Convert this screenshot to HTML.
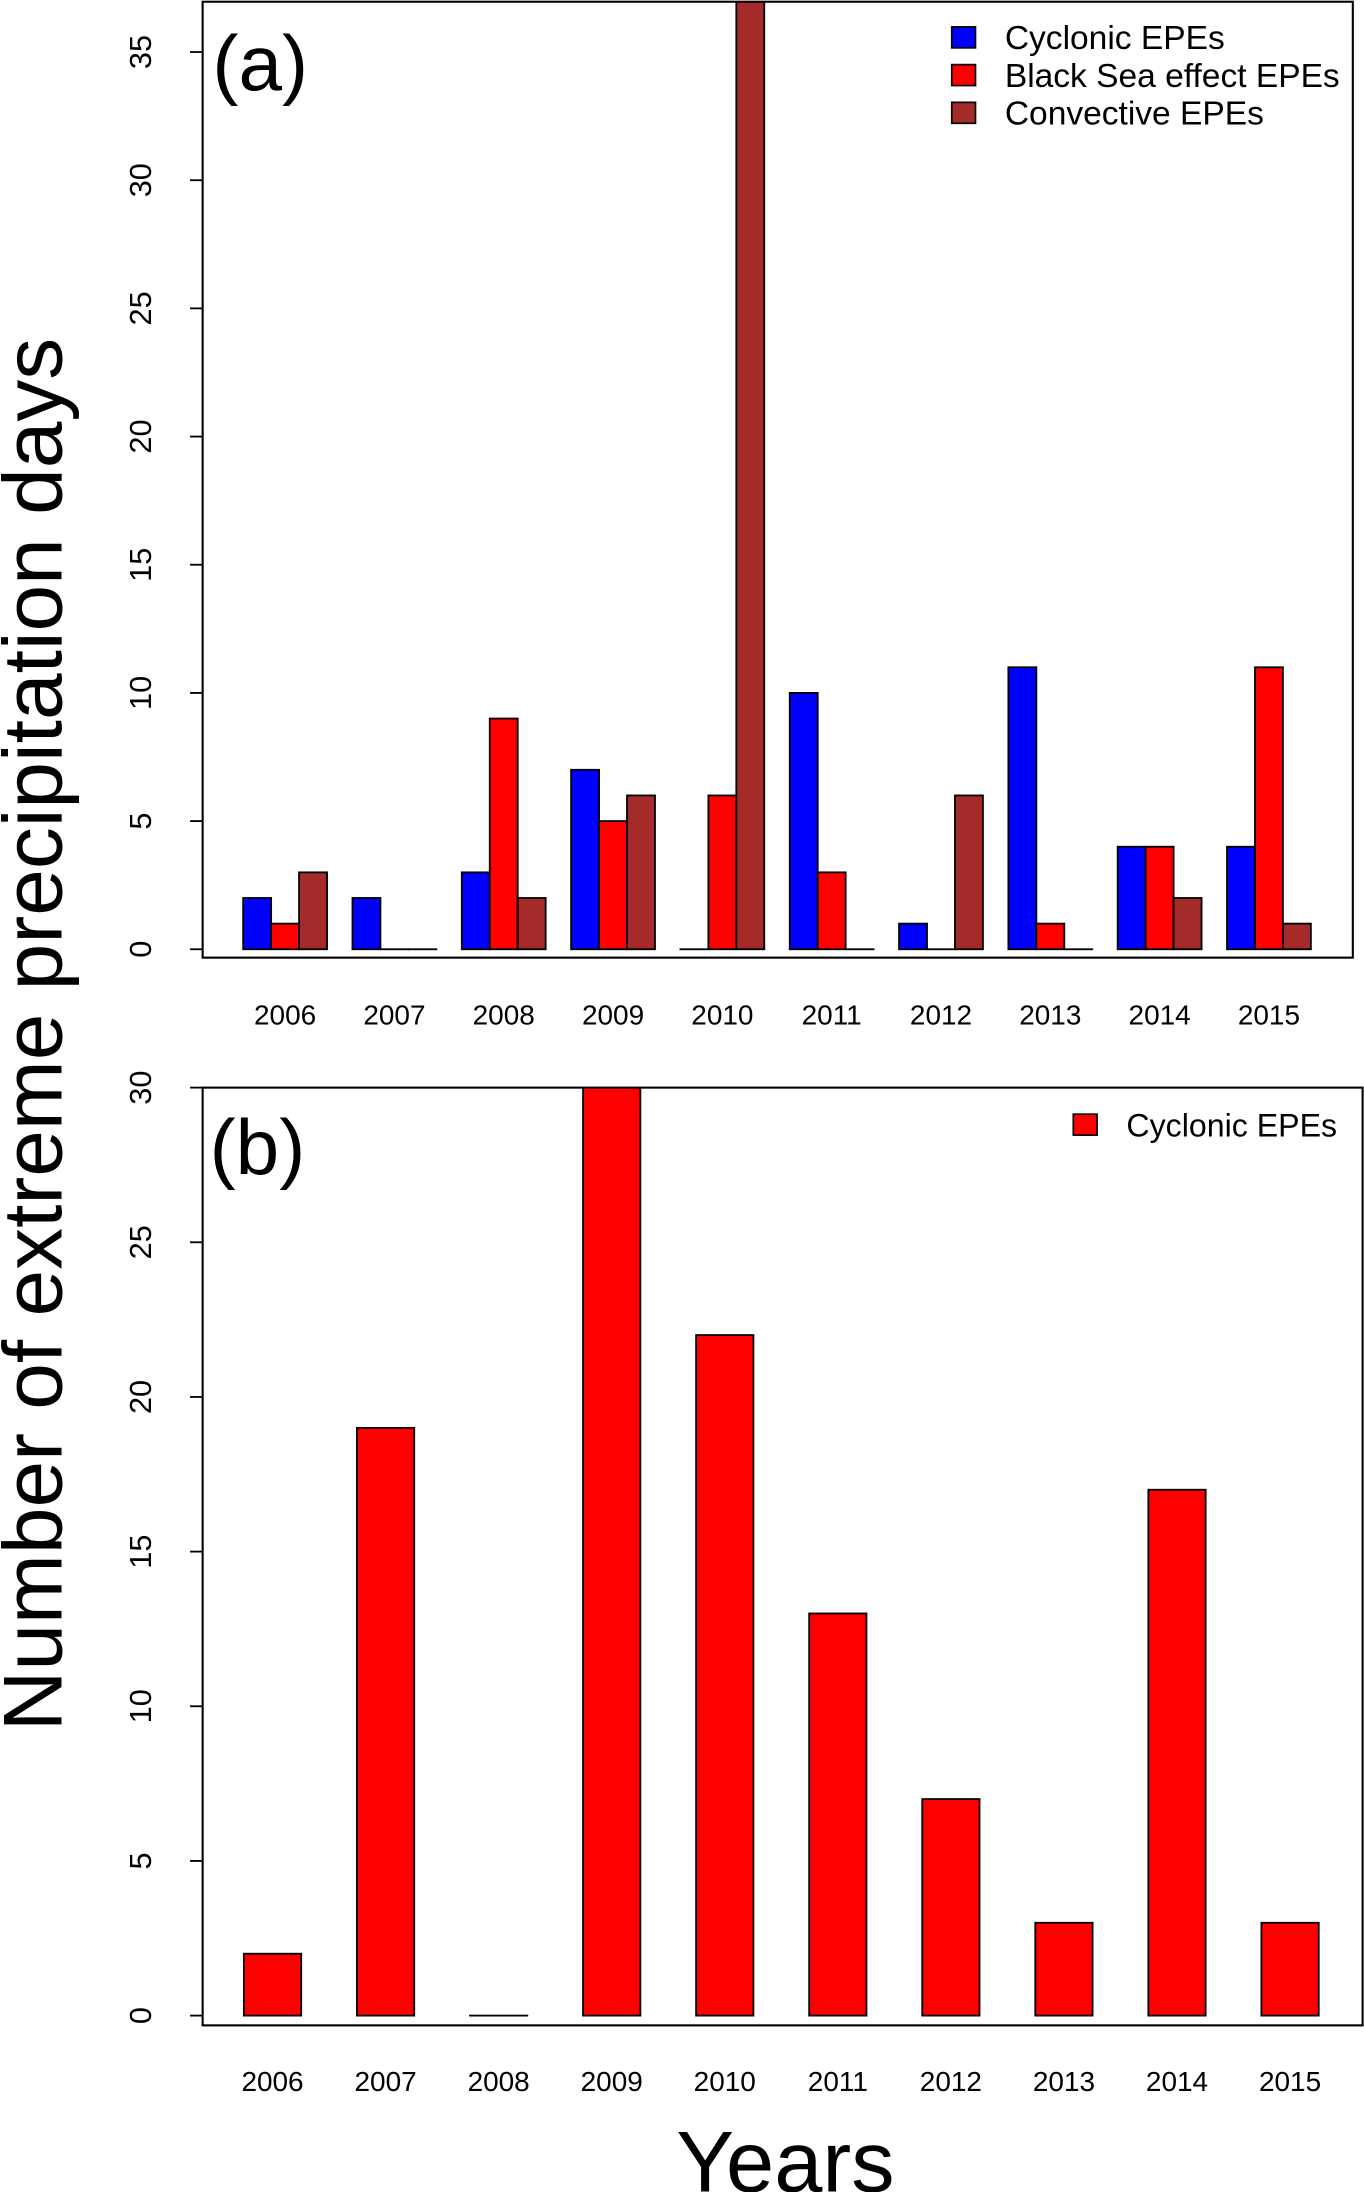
<!DOCTYPE html>
<html><head><meta charset="utf-8"><style>
html,body{margin:0;padding:0;background:#fff}
svg{display:block}
text{font-family:"Liberation Sans",Arial,sans-serif;fill:#000}
</style></head><body>
<svg id="chart" width="1364" height="2192" viewBox="0 0 976 1568" xmlns="http://www.w3.org/2000/svg">
<defs>
<clipPath id="clipA"><rect x="145" y="1" width="823" height="684"/></clipPath>
<clipPath id="clipB"><rect x="145" y="778" width="830" height="671"/></clipPath>
</defs>
<text transform="translate(44,740) rotate(-90)" text-anchor="middle" font-size="60">Number of extreme precipitation days</text>
<text x="562" y="1568" text-anchor="middle" font-size="62">Years</text>
<g id="gA"></g>
<g id="gB"></g>
</svg>
<script>
const years = ["2006","2007","2008","2009","2010","2011","2012","2013","2014","2015"];
const cyclonicA = [2,2,3,7,0,10,1,11,4,4];
const blackSeaA = [1,0,9,5,6,3,0,1,4,11];
const convectiveA = [3,0,2,6,40,0,6,0,2,1];
const cyclonicB = [2,19,0,40,22,13,7,3,17,3];
const ticksA = [0,5,10,15,20,25,30,35];
const ticksB = [0,5,10,15,20,25,30];

const NS="http://www.w3.org/2000/svg";
function mk(tag, attrs, parent){const e=document.createElementNS(NS,tag);for(const k in attrs)e.setAttribute(k,attrs[k]);parent.appendChild(e);return e;}

// Panel A
const gA=document.getElementById('gA');
const yA=v=>679-v*(679-37)/35;
const xA=i=>204+i*78.22;
const barsA=mk('g',{'clip-path':'url(#clipA)'},gA);
const seriesA=[[cyclonicA,'#0000ff','cyclonic'],[blackSeaA,'#ff0000','black-sea'],[convectiveA,'#a52a2a','convective']];
seriesA.forEach(([arr,col,nm],s)=>{
  arr.forEach((v,i)=>{
    const x=xA(i)-30+s*20;
    const r=mk('rect',{x:x,y:yA(v),width:20,height:Math.max(yA(0)-yA(v),0.01),fill:col,stroke:'#000','stroke-width':1.3},barsA);
    
    
  });
});
mk('rect',{x:145,y:1,width:823,height:684,fill:'none',stroke:'#000','stroke-width':1.5},gA);
ticksA.forEach(t=>{
  mk('line',{x1:136,x2:145,y1:yA(t),y2:yA(t),stroke:'#000','stroke-width':1.3},gA);
  const tx=mk('text',{transform:`translate(108,${yA(t)}) rotate(-90)`,'text-anchor':'middle','font-size':22},gA);
  tx.textContent=t;
  
  
});
years.forEach((y,i)=>{
  const tx=mk('text',{x:xA(i),y:733,'text-anchor':'middle','font-size':20},gA);
  tx.textContent=y;
  
  
});
const la=mk('text',{x:152,y:64,'font-size':56},gA);la.textContent='(a)';


const legA=[['Cyclonic EPEs','#0000ff'],['Black Sea effect EPEs','#ff0000'],['Convective EPEs','#a52a2a']];
legA.forEach(([lab,col],k)=>{
  const yy=27+k*27;
  mk('rect',{x:681,y:yy-8,width:17,height:15,fill:col,stroke:'#000','stroke-width':1.2},gA);
  const tx=mk('text',{x:719,y:yy+8,'font-size':24},gA);tx.textContent=lab;
  
  
});

// Panel B
const gB=document.getElementById('gB');
const yB=v=>1442-v*(1442-778)/30;
const xB=i=>195+i*80.9;
const barsB=mk('g',{'clip-path':'url(#clipB)'},gB);
cyclonicB.forEach((v,i)=>{
  const r=mk('rect',{x:xB(i)-20.5,y:yB(v),width:41,height:Math.max(yB(0)-yB(v),0.01),fill:'#ff0000',stroke:'#000','stroke-width':1.3},barsB);
  
  
});
mk('rect',{x:145,y:778,width:830,height:671,fill:'none',stroke:'#000','stroke-width':1.5},gB);
ticksB.forEach(t=>{
  mk('line',{x1:136,x2:145,y1:yB(t),y2:yB(t),stroke:'#000','stroke-width':1.3},gB);
  const tx=mk('text',{transform:`translate(108,${yB(t)}) rotate(-90)`,'text-anchor':'middle','font-size':22},gB);
  tx.textContent=t;
  
  
});
years.forEach((y,i)=>{
  const tx=mk('text',{x:xB(i),y:1496,'text-anchor':'middle','font-size':20},gB);
  tx.textContent=y;
  
  
});
const lb=mk('text',{x:150,y:840,'font-size':56},gB);lb.textContent='(b)';


mk('rect',{x:768,y:797,width:17,height:15,fill:'#ff0000',stroke:'#000','stroke-width':1.2},gB);
const lt=mk('text',{x:806,y:813,'font-size':23},gB);lt.textContent='Cyclonic EPEs';


</script>
</body></html>
